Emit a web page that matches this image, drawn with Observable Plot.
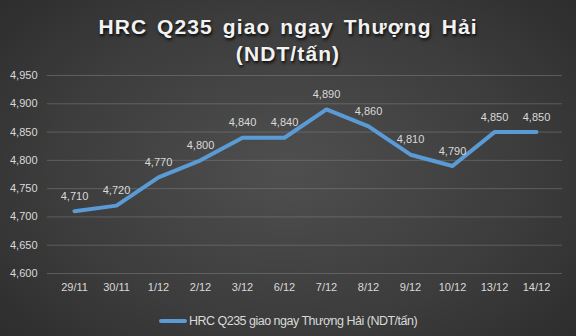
<!DOCTYPE html>
<html>
<head>
<meta charset="utf-8">
<script src="https://cdn.jsdelivr.net/npm/d3@7"></script>
<script src="https://cdn.jsdelivr.net/npm/@observablehq/plot@0.6"></script>
<style>
  html, body { margin: 0; padding: 0; background: #2b2b2b; }
  #chart {
    position: relative; width: 576px; height: 336px; overflow: hidden;
    background: radial-gradient(ellipse 75% 85% at 50% 50%, #4f4f4f 0%, #3c3c3c 55%, #282828 100%);
    font-family: "Liberation Sans", Arial, sans-serif;
  }
  #title {
    height: 60px; box-sizing: border-box; padding-top: 13px;
    text-align: center; color: #f2f2f2; font-weight: bold; font-size: 21px;
    letter-spacing: 1.1px; word-spacing: 3px; line-height: 27px;
    text-shadow: 1px 2px 3px rgba(0,0,0,0.85);
  }
  #legend {
    position: absolute; left: 0; top: 311px; width: 576px; height: 20px;
    display: flex; justify-content: center; align-items: center;
    color: #d9d9d9; font-size: 12.5px; letter-spacing: -0.5px;
  }
  #legend .sw { width: 28px; height: 4px; background: #5b9bd5; border-radius: 2px; margin-right: 2px; }
  svg { display: block; }
</style>
</head>
<body>
<div id="chart">
  <div id="title">HRC Q235 giao ngay Thượng Hải<br>(NDT/tấn)</div>
  <div id="plot"></div>
  <div id="legend"><span class="sw"></span><span>HRC Q235 giao ngay Thượng Hải (NDT/tấn)</span></div>
</div>
<script>
const dates = ["29/11","30/11","1/12","2/12","3/12","6/12","7/12","8/12","9/12","10/12","13/12","14/12"];
const prices = [4710, 4720, 4770, 4800, 4840, 4840, 4890, 4860, 4810, 4790, 4850, 4850];
const yTicks = [4600, 4650, 4700, 4750, 4800, 4850, 4900, 4950];

const data = dates.map((d, i) => ({date: d, price: prices[i]}));
const fmt = d3.format(",");

const plot = Plot.plot({
  width: 576,
  height: 240,
  marginTop: 15,
  marginBottom: 27,
  marginLeft: 47,
  marginRight: 14,
  style: {background: "transparent", color: "#d9d9d9", fontFamily: "Liberation Sans, Arial, sans-serif", fontSize: "11px"},
  x: {type: "point", domain: dates, padding: 0.5, label: null},
  y: {domain: [4600, 4950], label: null},
  marks: [
    Plot.ruleY(yTicks, {stroke: "#8a8a8a", strokeOpacity: 0.45, strokeWidth: 1}),
    Plot.axisY({ticks: yTicks, tickFormat: fmt, tickSize: 0, tickPadding: 10, label: null, fill: "#d9d9d9"}),
    Plot.axisX({tickSize: 0, tickPadding: 10, label: null, fill: "#d9d9d9"}),
    Plot.line(data, {x: "date", y: "price", stroke: "#5b9bd5", strokeWidth: 4, strokeLinejoin: "round", strokeLinecap: "round"}),
    Plot.text(data, {x: "date", y: "price", text: d => fmt(d.price), dy: -15, fill: "#d9d9d9", fontSize: 11})
  ]
});
document.getElementById("plot").appendChild(plot);
</script>
</body>
</html>
